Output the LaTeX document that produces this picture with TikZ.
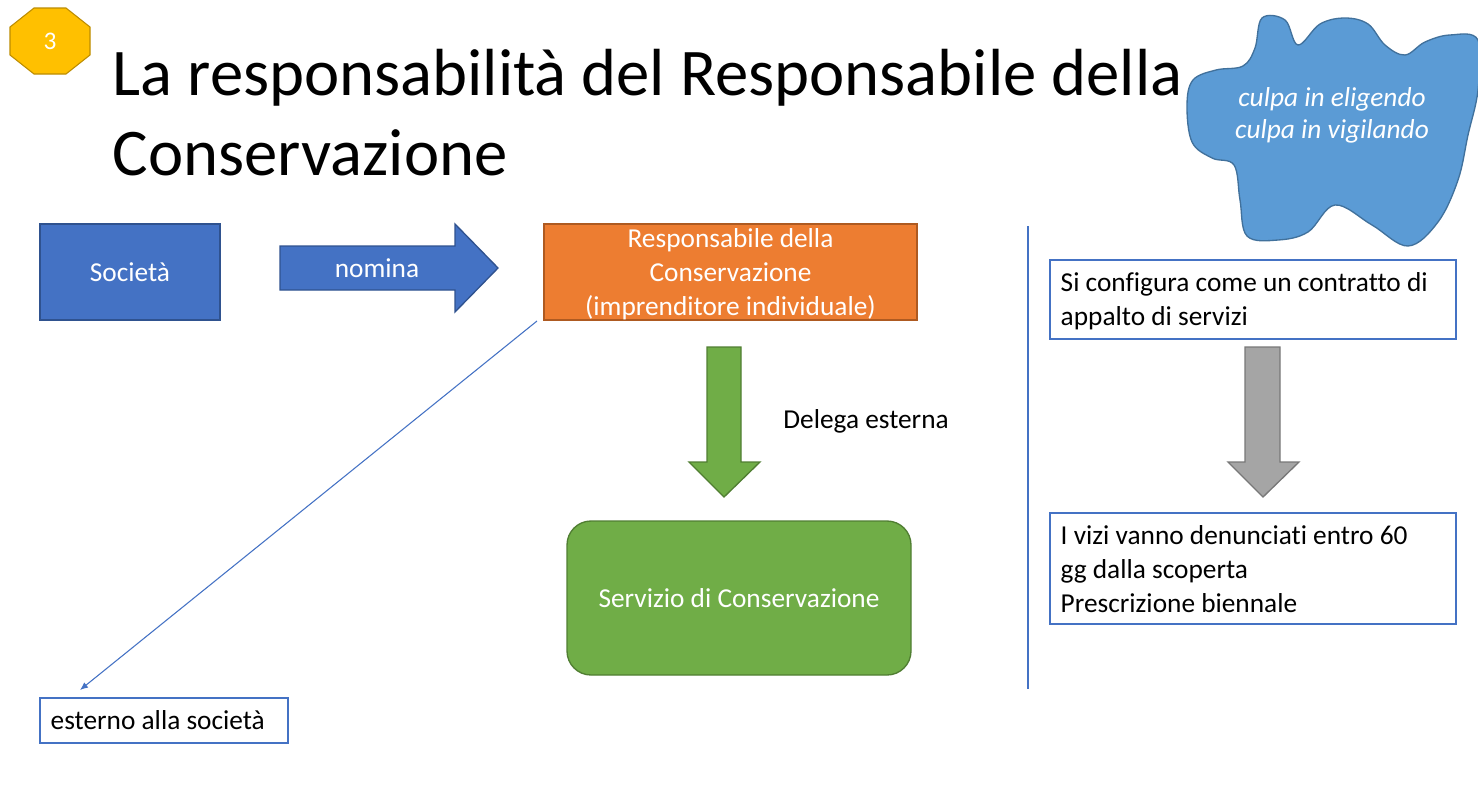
\documentclass[tikz,border=0pt]{standalone}
\usepackage{fontspec}
\setmainfont{Carlito}[Ligatures={NoCommon}]
\usetikzlibrary{shapes.geometric,arrows.meta}
\definecolor{cblue}{HTML}{4472C4}
\definecolor{cblued}{HTML}{2F528F}
\definecolor{corange}{HTML}{ED7D31}
\definecolor{corangd}{HTML}{AE5A21}
\definecolor{cgreen}{HTML}{70AD47}
\definecolor{cgreend}{HTML}{507E32}
\definecolor{cgray}{HTML}{A5A5A5}
\definecolor{cgrayd}{HTML}{787878}
\definecolor{cyel}{HTML}{FFC000}
\definecolor{cyeld}{HTML}{BC8C00}
\definecolor{ccloud}{HTML}{5B9BD5}
\definecolor{ccloudd}{HTML}{41719C}
\tikzset{
 wtxt/.style={text=white,font=\fontsize{20.5}{25}\selectfont,align=center},
 btxt/.style={font=\fontsize{20.5}{25.5}\selectfont,align=left,anchor=north west},
 outline/.style={draw=cblue,fill=white,line width=0.8pt},
}
\begin{document}
\begin{tikzpicture}[x=0.75pt,y=-0.75pt]
\useasboundingbox (0,0) rectangle (1478,808);
% badge
\draw[fill=cyel,draw=cyeld,line width=0.8pt] (34,8) -- (66,8) -- (90,27) -- (90,55) -- (66,74) -- (34,74) -- (10,55) -- (10,27) -- cycle;
\node[text=white,font=\fontsize{19}{19}\selectfont] (badget) at (50,41) {3};
% title
\node[anchor=west,font=\fontsize{50}{56}\selectfont] (t1) at (108,78) {La responsabilità del Responsabile della};
\node[anchor=west,font=\fontsize{50}{56}\selectfont] (t2) at (108,153) {Conservazione};
% cloud
\draw[fill=ccloud,draw=ccloudd,line width=1pt] plot[smooth cycle,tension=0.6] coordinates {(1262,18) (1285,20) (1298,45) (1320,24) (1345,18) (1368,24) (1385,45) (1405,55) (1425,42) (1450,35) (1478,40) (1478,90) (1468,135) (1458,180) (1438,222) (1408,246) (1372,225) (1335,205) (1308,232) (1278,240) (1247,236) (1240,200) (1234,165) (1212,158) (1192,142) (1187,105) (1193,80) (1216,70) (1243,66) (1255,48)};
\node[text=white,font=\itshape\fontsize{20.5}{24}\selectfont,align=center] (cloud) at (1332,115) {culpa in eligendo\\culpa in vigilando};
% Società
\node[fill=cblue,draw=cblued,line width=1pt,minimum width=135pt,minimum height=72pt,wtxt] (soc) at (130,272) {Società};
% nomina arrow
\draw[fill=cblue,draw=cblued,line width=1pt] (280,246) -- (455,246) -- (455,224) -- (498,268) -- (455,312) -- (455,290) -- (280,290) -- cycle;
\node[wtxt] (nom) at (377,268) {nomina};
% orange
\node[fill=corange,draw=corangd,line width=1pt,minimum width=279.75pt,minimum height=72pt] (resp) at (730.5,272) {};
\node[wtxt,font=\fontsize{20.5}{25.5}\selectfont,inner sep=0pt] (respt) at (730.5,274) {Responsabile della\\Conservazione\\(imprenditore individuale)};
% green arrow
\draw[fill=cgreen,draw=cgreend,line width=1pt] (707,347) -- (741,347) -- (741,462) -- (760,462) -- (724,497) -- (689,462) -- (707,462) -- cycle;
\node[font=\fontsize{20.5}{21}\selectfont] (del) at (866,421) {Delega esterna};
% service
\node[fill=cgreen,draw=cgreend,line width=1pt,rounded corners=18pt,minimum width=258pt,minimum height=115.5pt,wtxt] (serv) at (739,598) {Servizio di Conservazione};
% external
\node[outline,minimum width=186pt,minimum height=33.75pt] (est) at (164,720.5) {};
\node[anchor=west,font=\fontsize{20.5}{21}\selectfont] (estt) at (46,720.5) {esterno alla società};
\coordinate (lstart) at (537,321);
\draw[cblue,line width=0.8pt,-{Latex[length=6pt,width=5pt]}] (lstart) -- (80,690);
% vertical line
\coordinate (v1) at (1028,226); \coordinate (v2) at (1028,689);
\draw[cblue,line width=0.8pt] (v1) -- (v2);
% right boxes
\node[outline,minimum width=304.5pt,minimum height=59.25pt] (b1) at (1253,299.5) {};
\node[btxt] (b1t) at (1056,268) {Si configura come un contratto di\\appalto di servizi};
\draw[fill=cgray,draw=cgrayd,line width=1pt] (1245,347) -- (1280,347) -- (1280,462) -- (1299,462) -- (1263,497) -- (1228,462) -- (1245,462) -- cycle;
\node[outline,minimum width=304.5pt,minimum height=83.25pt] (b2) at (1253,568.5) {};
\node[btxt] (b2t) at (1056,521) {I vizi vanno denunciati entro 60\\gg dalla scoperta\\Prescrizione biennale};
\end{tikzpicture}
\end{document}
